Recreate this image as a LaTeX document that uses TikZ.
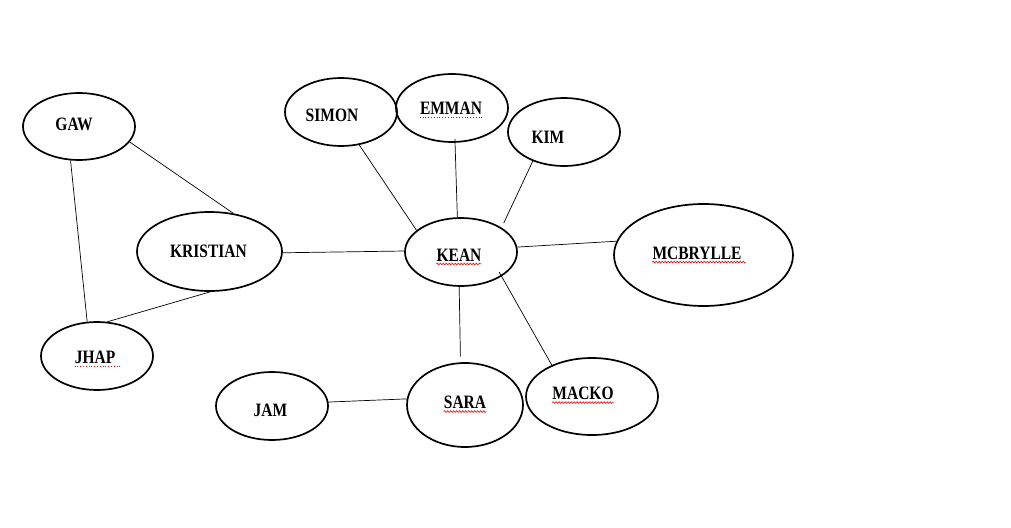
\documentclass[tikz,border=0pt]{standalone}
\usepackage{fontspec}
\usepackage{graphicx}
\setmainfont{Liberation Serif}
\usetikzlibrary{shapes.geometric,decorations.pathmorphing}
\newcommand\nmtxt[1]{\scalebox{1}[1.22]{#1}}
\tikzset{
  person/.style={ellipse, draw, line width=1.7pt, inner sep=0pt},
  nametext/.style={inner sep=0pt, font=\bfseries\fontsize{15.5}{18}\selectfont},
  link/.style={line width=0.7pt},
  squiggle/.style={red, line width=0.6pt, decorate, decoration={snake, amplitude=0.9pt, segment length=3pt}},
  dotline/.style={red, line width=0.8pt, dotted}
}
\begin{document}
\begin{tikzpicture}[x=1pt,y=-1pt]
\path[use as bounding box, fill=white] (0,0) rectangle (1011,527);
% ellipses
\node[person, minimum width=112pt, minimum height=67pt] (gaw) at (79,126.5) {};
\node[person, minimum width=145pt, minimum height=79pt] (kristian) at (209.5,251.5) {};
\node[person, minimum width=112pt, minimum height=68pt] (jhap) at (97,356) {};
\node[person, minimum width=112pt, minimum height=68pt] (simon) at (341,112) {};
\node[person, minimum width=112pt, minimum height=68pt] (emman) at (452,108) {};
\node[person, minimum width=112pt, minimum height=68pt] (kim) at (564,132) {};
\node[person, minimum width=112pt, minimum height=68pt] (kean) at (461,252) {};
\node[person, minimum width=179pt, minimum height=102pt] (mcbrylle) at (703.5,255) {};
\node[person, minimum width=112pt, minimum height=68pt] (jam) at (272,406) {};
\node[person, minimum width=116pt, minimum height=84pt] (sara) at (465,405) {};
\node[person, minimum width=132pt, minimum height=77pt] (macko) at (592,396.5) {};
% texts
\node[nametext] (gawt) at (74,124) {\nmtxt{GAW}};
\node[nametext] (kristiant) at (208.5,251) {\nmtxt{KRISTIAN}};
\node[nametext] (jhapt) at (95,357.5) {\nmtxt{JHAP}};
\node[nametext] (simont) at (332,115) {\nmtxt{SIMON}};
\node[nametext] (emmant) at (451,108.5) {\nmtxt{EMMAN}};
\node[nametext] (kimt) at (548,137) {\nmtxt{KIM}};
\node[nametext] (keant) at (459,255) {\nmtxt{KEAN}};
\node[nametext] (mcbryllet) at (697,253) {\nmtxt{MCBRYLLE}};
\node[nametext] (jamt) at (270.5,410) {\nmtxt{JAM}};
\node[nametext] (sarat) at (465,402.5) {\nmtxt{SARA}};
\node[nametext] (mackot) at (583,393.5) {\nmtxt{MACKO}};
% spell-check marks
\draw[squiggle] ([yshift=-2.5pt]keant.south west) -- ([yshift=-2.5pt]keant.south east);
\draw[squiggle] ([yshift=-2.5pt]sarat.south west) -- ([yshift=-2.5pt]sarat.south east);
\draw[squiggle] ([yshift=-2.5pt]mackot.south west) -- ([yshift=-2.5pt]mackot.south east);
\draw[squiggle] ([yshift=-2.5pt]mcbryllet.south west) -- ([yshift=-2.5pt,xshift=4pt]mcbryllet.south east);
\draw[dotline] ([yshift=-2pt]jhapt.south west) -- ([yshift=-2pt,xshift=4pt]jhapt.south east);
\draw[dotline] ([yshift=-2pt]emmant.south west) -- ([yshift=-2pt]emmant.south east);
% connectors
\draw[link] (gaw.-17) -- (kristian.58.6);
\draw[link] (gaw.-104) -- (jhap.106);
\draw[link] (kristian.-89) -- (jhap.73.6);
\draw[link] (kristian.-1) -- (kean.179);
\draw[link] (simon.-61.4) -- (kean.154.5);
\draw[link, shorten <=-4pt] (emman.-85.5) -- (kean.96.7);
\draw[link, shorten >=5pt] (kim.-137.8) -- (kean.31.5);
\draw[link] (kean.5) -- (mcbrylle.171);
\draw[link, shorten >=6pt] (kean.-93) -- (sara.96);
\draw[link, shorten <=-5pt] (kean.-31) -- (macko.142);
\draw[link] (jam.4) -- (sara.174);
\end{tikzpicture}
\end{document}
